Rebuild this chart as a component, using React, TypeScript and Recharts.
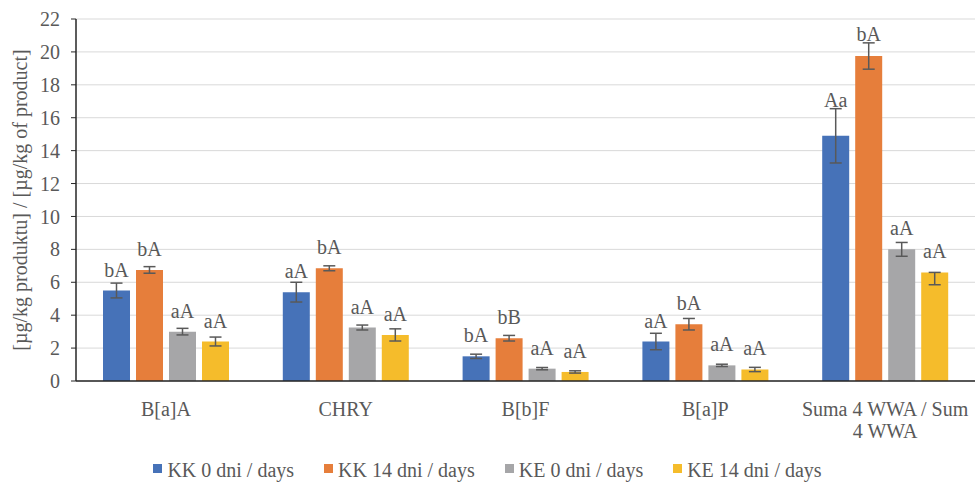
import { BarChart, Bar, XAxis, YAxis, CartesianGrid, Legend, ErrorBar, LabelList } from 'recharts';

const FONT = '"Liberation Serif", "Times New Roman", serif';
const FONT_SIZE = 20;
const TEXT_COLOR = '#595959';
const AXIS_COLOR = '#262626';

const categories = ['B[a]A', 'CHRY', 'B[b]F', 'B[a]P', 'Suma 4 WWA / Sum 4 WWA'];
const yTicks = [0, 2, 4, 6, 8, 10, 12, 14, 16, 18, 20, 22];

// mean values and standard deviations
const kk0 = [5.5, 5.4, 1.5, 2.4, 14.9];
const kk0Err = [0.45, 0.6, 0.13, 0.5, 1.65];
const kk14 = [6.75, 6.85, 2.6, 3.45, 19.75];
const kk14Err = [0.2, 0.15, 0.17, 0.35, 0.8];
const ke0 = [3.0, 3.25, 0.75, 0.95, 8.0];
const ke0Err = [0.2, 0.15, 0.07, 0.07, 0.42];
const ke14 = [2.4, 2.8, 0.55, 0.7, 6.6];
const ke14ErrLow = [0.27, 0.37, 0.07, 0.13, 0.75];
const ke14ErrHigh = [0.27, 0.37, 0.07, 0.13, 0];

// significance letters
const kk0Tags = ['bA', 'aA', 'bA', 'aA', 'Aa'];
const kk14Tags = ['bA', 'bA', 'bB', 'bA', 'bA'];
const ke0Tags = ['aA', 'aA', 'aA', 'aA', 'aA'];
const ke14Tags = ['aA', 'aA', 'aA', 'aA', 'aA'];

const series = [
    { key: 'kk0', name: 'KK 0 dni / days', color: '#4672B8', tags: kk0Tags, errUp: kk0Err },
    { key: 'kk14', name: 'KK 14 dni / days', color: '#E67E3B', tags: kk14Tags, errUp: kk14Err },
    { key: 'ke0', name: 'KE 0 dni / days', color: '#A6A6A8', tags: ke0Tags, errUp: ke0Err },
    { key: 'ke14', name: 'KE 14 dni / days', color: '#F5BC2B', tags: ke14Tags, errUp: ke14ErrHigh },
];

const data = categories.map((name, i) => ({
    name,
    kk0: kk0[i],
    kk0Err: kk0Err[i],
    kk14: kk14[i],
    kk14Err: kk14Err[i],
    ke0: ke0[i],
    ke0Err: ke0Err[i],
    ke14: ke14[i],
    ke14Err: [ke14ErrLow[i], ke14ErrHigh[i]],
}));

// greedy word wrap measured with a canvas, so long category names break like in the band
const wrapWords = (label: string, maxWidth: number): string[] => {
    const ctx = document.createElement('canvas').getContext('2d');
    if (!ctx) return [label];
    ctx.font = `${FONT_SIZE}px ${FONT}`;
    const lines: string[] = [];
    let line = '';
    label.split(' ').forEach((word) => {
        const next = line ? `${line} ${word}` : word;
        if (line && ctx.measureText(next).width > maxWidth) {
            lines.push(line);
            line = word;
        } else {
            line = next;
        }
    });
    if (line) lines.push(line);
    return lines;
};

// letters sit above the bar, or above the error cap when that reaches higher
const renderTag = (props: any, tags: string[], errUp: number[]) => {
    const vb = props.viewBox ?? props;
    const index = props.index;
    const value = Number(props.value);
    const x = vb.x + vb.width / 2;
    const pxPerUnit = value ? Math.abs(vb.height) / value : 0;
    const barTop = Math.min(vb.y, vb.y + vb.height);
    const errTop = barTop - errUp[index] * pxPerUnit;
    const baseline = Math.min(barTop - 14, errTop - 2);
    return (
        <text x={x} y={baseline} textAnchor="middle" fontFamily={FONT} fontSize={FONT_SIZE} fill={TEXT_COLOR}>
            {tags[index]}
        </text>
    );
};

const CategoryTick = ({ x, y, payload }: any) => {
    const lines = wrapWords(String(payload.value), 170);
    return (
        <text x={x} y={y} textAnchor="middle" fontFamily={FONT} fontSize={FONT_SIZE} fill={TEXT_COLOR}>
            {lines.map((line, i) => (
                <tspan key={i} x={x} dy={i === 0 ? 14 : 22}>{line}</tspan>
            ))}
        </text>
    );
};

const renderLegend = () => (
    <div style={{ display: 'flex', justifyContent: 'center', gap: 30, fontFamily: FONT, fontSize: FONT_SIZE, color: TEXT_COLOR, lineHeight: '20px', height: 20 }}>
        {series.map((s) => (
            <span key={s.key} style={{ display: 'flex', alignItems: 'center', whiteSpace: 'nowrap' }}>
                <span style={{ width: 9, height: 9, background: s.color, marginRight: 5, marginTop: -3 }} />
                {s.name}
            </span>
        ))}
    </div>
);

const YTitle = ({ viewBox }: any) => {
    const cy = viewBox.y + viewBox.height / 2;
    return (
        <text x={22} y={cy} transform={`rotate(-90, 22, ${cy})`} textAnchor="middle" dominantBaseline="middle"
            fontFamily={FONT} fontSize={FONT_SIZE} fill={TEXT_COLOR}>
            [µg/kg produktu] / [µg/kg of product]
        </text>
    );
};

export default function App() {
    return (
        <div style={{ position: 'absolute', left: 0, top: 0, fontFamily: FONT }}>
            <BarChart
                width={975}
                height={483}
                data={data}
                margin={{ top: 19, right: 0, bottom: 0, left: 0 }}
                barCategoryGap={27}
                barGap={6}
            >
                <CartesianGrid vertical={false} stroke="#D9D9D9" />
                <XAxis
                    dataKey="name"
                    type="category"
                    height={82}
                    axisLine={{ stroke: AXIS_COLOR, strokeWidth: 1.5 }}
                    tickLine={false}
                    tickSize={0}
                    tickMargin={21}
                    interval={0}
                    tick={<CategoryTick />}
                />
                <YAxis
                    type="number"
                    width={76}
                    domain={[0, 22]}
                    ticks={yTicks}
                    interval={0}
                    axisLine={{ stroke: AXIS_COLOR, strokeWidth: 1.5 }}
                    tickLine={{ stroke: AXIS_COLOR }}
                    tickSize={5}
                    tickMargin={11}
                    tick={{ fontFamily: FONT, fontSize: FONT_SIZE, fill: TEXT_COLOR }}
                    label={<YTitle />}
                />
                <Legend
                    verticalAlign="bottom"
                    height={20}
                    content={renderLegend}
                    wrapperStyle={{ left: 0, width: 975, top: 460, bottom: 'auto' }}
                />
                {series.map((s) => (
                    <Bar key={s.key} dataKey={s.key} name={s.name} fill={s.color} isAnimationActive={false}>
                        <ErrorBar
                            dataKey={`${s.key}Err`}
                            direction="y"
                            width={6}
                            stroke="#595959"
                            strokeWidth={1.5}
                            isAnimationActive={false}
                        />
                        <LabelList dataKey={s.key} content={(p: any) => renderTag(p, s.tags, s.errUp)} />
                    </Bar>
                ))}
            </BarChart>
        </div>
    );
}
